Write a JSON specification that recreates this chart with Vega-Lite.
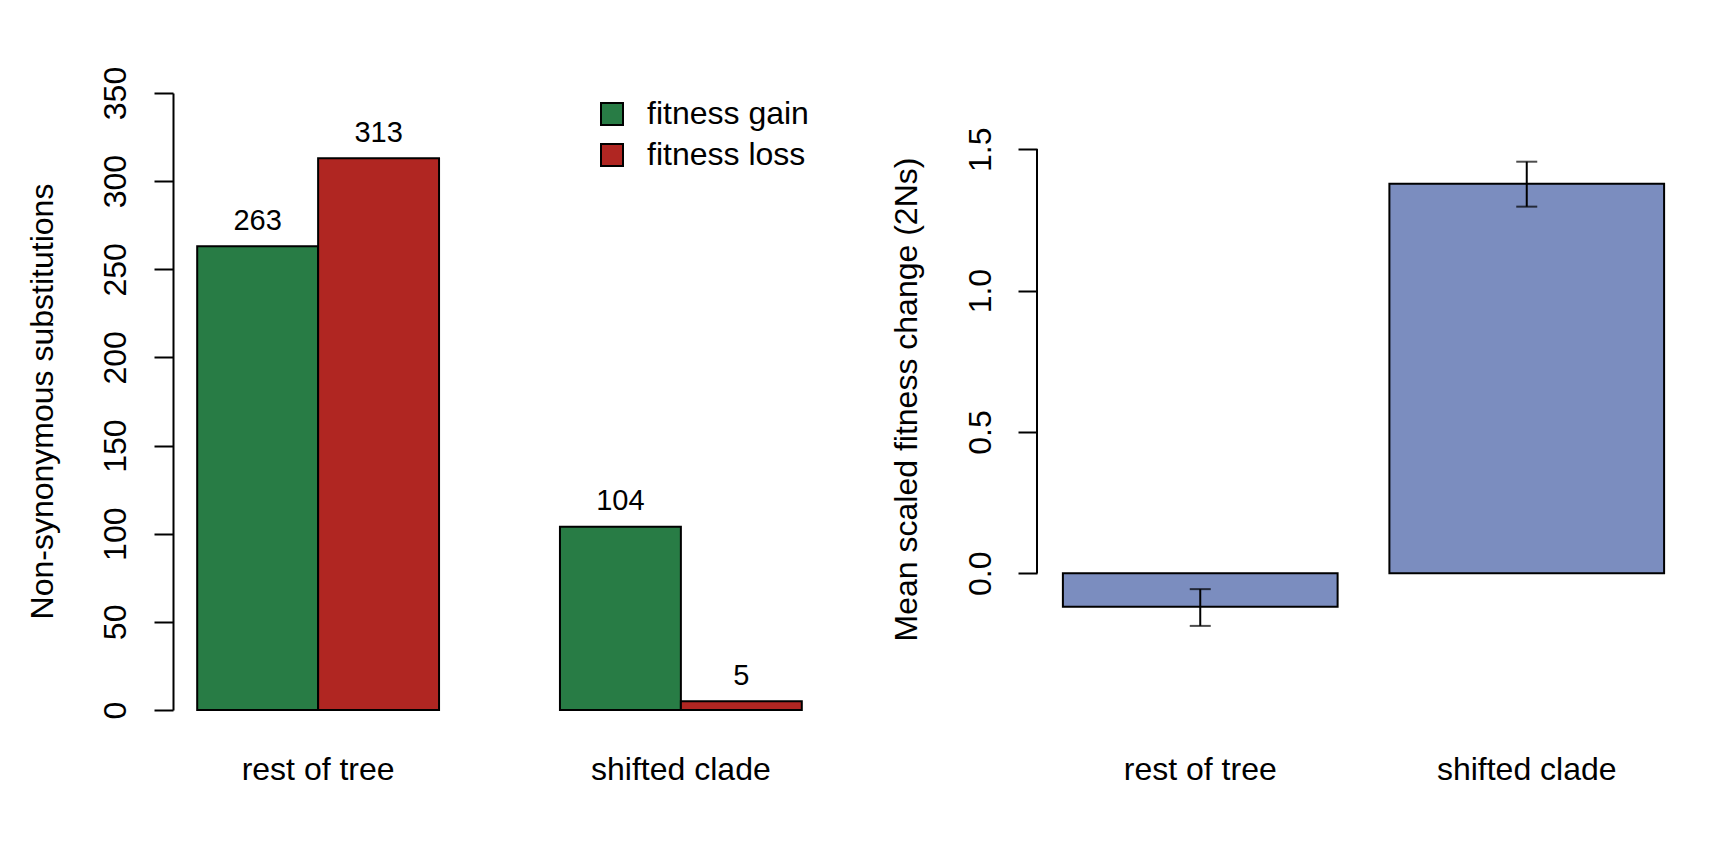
{
  "$schema": "https://vega.github.io/schema/vega-lite/v6.json",
  "background": "white",
  "padding": {"left": 26, "top": 66, "right": 10, "bottom": 10},
  "bounds": "flush",
  "spacing": 211,
  "config": {
    "font": "Liberation Sans",
    "view": {"stroke": null},
    "axis": {"labelFont": "Liberation Sans", "titleFont": "Liberation Sans", "labelColor": "black", "titleColor": "black", "grid": false},
    "legend": {"labelFont": "Liberation Sans"}
  },
  "datasets": {
    "counts": [
      {"group": "rest of tree", "type": "fitness gain", "count": 263},
      {"group": "rest of tree", "type": "fitness loss", "count": 313},
      {"group": "shifted clade", "type": "fitness gain", "count": 104},
      {"group": "shifted clade", "type": "fitness loss", "count": 5}
    ],
    "fitness": [
      {"group": "rest of tree", "mean": -0.118, "lo": -0.186, "hi": -0.056},
      {"group": "shifted clade", "mean": 1.378, "lo": 1.297, "hi": 1.456}
    ]
  },
  "hconcat": [
    {
      "width": 653,
      "height": 617,
      "data": {"name": "counts"},
      "encoding": {
        "x": {
          "field": "group", "type": "nominal", "sort": ["rest of tree", "shifted clade"],
          "scale": {"paddingInner": 0.3333, "paddingOuter": 0.0667},
          "axis": {"title": null, "domain": false, "ticks": false, "tickSize": 0, "labelAngle": 0,
                   "labelPadding": 69, "labelBaseline": "alphabetic", "labelFontSize": 32}
        },
        "xOffset": {"field": "type", "type": "nominal", "sort": ["fitness gain", "fitness loss"],
                    "scale": {"paddingInner": 0, "paddingOuter": 0}},
        "y": {
          "field": "count", "type": "quantitative",
          "scale": {"domain": [0, 350], "nice": false, "zero": true},
          "axis": {
            "title": "Non-synonymous substitutions", "titleFontSize": 32, "titleFontWeight": "normal",
            "titleAngle": 270, "titleX": -131, "titleY": 308, "titleAlign": "center", "titleBaseline": "middle",
            "values": [0, 50, 100, 150, 200, 250, 300, 350],
            "labelFontSize": 32, "labelAngle": 270, "labelAlign": "center", "labelBaseline": "alphabetic",
            "labelPadding": 29, "tickSize": 19, "tickWidth": 2, "tickColor": "black",
            "domainWidth": 2, "domainColor": "black", "labelFlush": false, "labelOverlap": false
          }
        }
      },
      "layer": [
        {
          "mark": {"type": "bar", "stroke": "black", "strokeWidth": 2},
          "encoding": {
            "color": {
              "field": "type", "type": "nominal",
              "scale": {"domain": ["fitness gain", "fitness loss"], "range": ["#287C45", "#B02622"]},
              "legend": {
                "title": null, "orient": "none", "legendX": 423, "legendY": 5, "padding": 0,
                "symbolType": "square", "symbolSize": 484, "symbolStrokeColor": "black", "symbolStrokeWidth": 2,
                "labelFontSize": 32, "labelColor": "black", "labelOffset": 19, "labelLimit": 400, "rowPadding": 9
              }
            }
          }
        },
        {
          "mark": {"type": "text", "baseline": "alphabetic", "dy": -16.5, "fontSize": 29, "color": "black"},
          "encoding": {"text": {"field": "count", "type": "quantitative"}}
        }
      ]
    },
    {
      "width": 653,
      "height": 617,
      "data": {"name": "fitness"},
      "encoding": {
        "x": {
          "field": "group", "type": "nominal", "sort": ["rest of tree", "shifted clade"],
          "scale": {"paddingInner": 0, "paddingOuter": 0},
          "axis": {"title": null, "domain": false, "ticks": false, "tickSize": 0, "labelAngle": 0,
                   "labelPadding": 69, "labelBaseline": "alphabetic", "labelFontSize": 32}
        }
      },
      "layer": [
        {
          "mark": {"type": "bar", "fill": "#7B8DBF", "stroke": "black", "strokeWidth": 2, "width": {"band": 0.8414}},
          "encoding": {
            "y": {
              "field": "mean", "type": "quantitative",
              "scale": {"domain": [-0.4835, 1.699], "nice": false, "zero": false},
              "axis": {
                "title": "Mean scaled fitness change (2Ns)", "titleFontSize": 32, "titleFontWeight": "normal",
                "titleAngle": 270, "titleX": -131, "titleY": 306, "titleAlign": "center", "titleBaseline": "middle",
                "values": [0, 0.5, 1, 1.5], "format": ".1f",
                "labelFontSize": 32, "labelAngle": 270, "labelAlign": "center", "labelBaseline": "alphabetic",
                "labelPadding": 28, "tickSize": 19, "tickWidth": 2, "tickColor": "black",
                "domain": false, "labelFlush": false, "labelOverlap": false
              }
            },
            "y2": {"datum": 0}
          }
        },
        {
          "mark": {"type": "rule", "color": "black", "strokeWidth": 2},
          "encoding": {"y": {"datum": 0}}
        },
        {
          "mark": {"type": "rule", "color": "black", "strokeWidth": 2},
          "encoding": {
            "x": {"datum": "rest of tree", "type": "nominal", "bandPosition": 0},
            "y": {"datum": 0},
            "y2": {"datum": 1.5}
          }
        },
        {
          "mark": {"type": "rule", "color": "black", "strokeWidth": 2},
          "encoding": {"y": {"field": "lo", "type": "quantitative"}, "y2": {"field": "hi"}}
        },
        {
          "mark": {"type": "tick", "orient": "horizontal", "color": "black", "size": 21, "thickness": 2},
          "encoding": {"y": {"field": "lo", "type": "quantitative"}}
        },
        {
          "mark": {"type": "tick", "orient": "horizontal", "color": "black", "size": 21, "thickness": 2},
          "encoding": {"y": {"field": "hi", "type": "quantitative"}}
        }
      ]
    }
  ]
}
